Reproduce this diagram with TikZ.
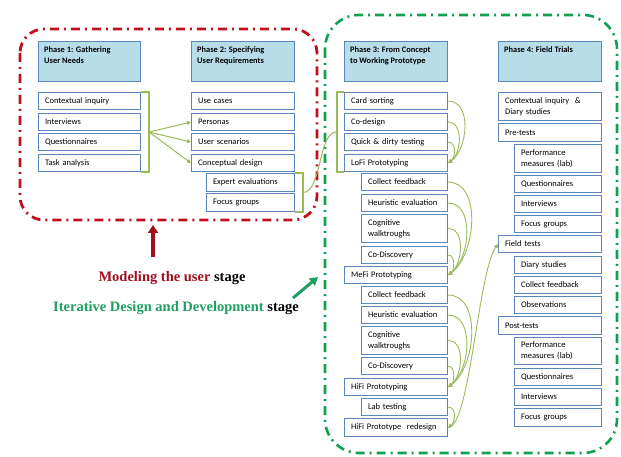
\documentclass[tikz,border=0pt]{standalone}
\usepackage{fontspec}
\setmainfont{Carlito}
\newfontfamily\lblfont{Liberation Serif}
\usetikzlibrary{calc,arrows.meta}
\definecolor{boxblue}{HTML}{5B87C0}
\definecolor{hdrfill}{HTML}{B7DDE8}
\definecolor{conn}{HTML}{9BBB59}
\definecolor{redd}{HTML}{C0101E}
\definecolor{greend}{HTML}{10A050}
\definecolor{lblred}{HTML}{A0101E}
\definecolor{lblgreen}{HTML}{20A060}
\begin{document}
\begin{tikzpicture}[x=1pt,y=-1pt,
  item/.style={draw=boxblue, line width=1.1pt, fill=white, anchor=north west, inner xsep=6.5pt, inner ysep=0pt, align=left, font=\fontsize{8.5}{11}\selectfont, minimum height=17pt},
  wide/.style={item, text width=90pt},
  narrow/.style={item, text width=74pt},
  hdr/.style={draw=boxblue, line width=1.4pt, fill=hdrfill, anchor=north west, minimum width=103pt, minimum height=40pt, inner sep=0pt},
  hdrtext/.style={anchor=north west, inner xsep=6pt, inner ysep=5pt, align=left, font=\bfseries\fontsize{8.4}{11}\selectfont},
  bracket/.style={draw=conn, line width=1.5pt},
  conn/.style={draw=conn, line width=1pt, -{Triangle[length=4pt,width=4pt]}},
  arcs/.style={draw=conn, line width=0.9pt, -{Triangle[length=4pt,width=4pt]}},
  redbox/.style={draw=redd, line width=2.8pt, rounded corners=24pt, dash pattern=on 9pt off 5pt on 2pt off 5pt},
  greenbox/.style={draw=greend, line width=2.6pt, rounded corners=34pt, dash pattern=on 9pt off 5pt on 2pt off 5pt},
  lbl/.style={font=\lblfont\bfseries\fontsize{14.5}{16}\selectfont, inner sep=0pt}
]
\useasboundingbox (0,0) rectangle (621,457);

% stage frames
\draw[redbox] (20,29) rectangle (317,220);
\draw[greenbox] (325,15) rectangle (617,453);

% Phase 1
\node[hdr, minimum width=102pt] (p1) at (38,41) {};
\node[hdrtext] (p1t) at (p1.north west) {Phase 1: Gathering\\User Needs};
\node[wide, text width=89pt] (ci1) at (38,92) {Contextual inquiry};
\node[wide, text width=89pt] (iv1) at (38,113) {Interviews};
\node[wide, text width=89pt] (q1) at (38,133) {Questionnaires};
\node[wide, text width=89pt] (ta1) at (38,154) {Task analysis};

% Phase 2
\node[hdr] (p2) at (191,41) {};
\node[hdrtext] (p2t) at (p2.north west) {Phase 2: Specifying\\User Requirements};
\node[wide] (uc) at (191,92) {Use cases};
\node[wide] (pe) at (191,113) {Personas};
\node[wide] (us) at (191,133) {User scenarios};
\node[wide] (cdz) at (191,154) {Conceptual design};
\node[item, text width=75pt, minimum height=18pt] (ee) at (206,173) {Expert evaluations};
\node[item, text width=75pt, minimum height=18pt] (fg2) at (206,193) {Focus groups};

% Phase 3
\node[hdr] (p3) at (344,41) {};
\node[hdrtext] (p3t) at (p3.north west) {Phase 3: From Concept\\to Working Prototype};
\node[wide] (cs) at (344,92) {Card sorting};
\node[wide] (cod) at (344,113) {Co-design};
\node[wide] (qd) at (344,133) {Quick \& dirty testing};
\node[wide] (lofi) at (344,154) {LoFi Prototyping};
\node[narrow, text width=73pt] (cf1) at (361,173) {Collect feedback};
\node[narrow, text width=73pt] (he1) at (361,194) {Heuristic evaluation};
\node[narrow, text width=73pt, minimum height=28pt] (cw1) at (361,214) {Cognitive\\walktroughs};
\node[narrow, text width=73pt] (cx1) at (361,246) {Co-Discovery};
\node[wide] (mefi) at (344,266) {MeFi Prototyping};
\node[narrow, text width=73pt] (cf2) at (361,286) {Collect feedback};
\node[narrow, text width=73pt] (he2) at (361,306) {Heuristic evaluation};
\node[narrow, text width=73pt, minimum height=28pt] (cw2) at (361,326) {Cognitive\\walktroughs};
\node[narrow, text width=73pt] (cx2) at (361,357) {Co-Discovery};
\node[wide] (hifi) at (344,378) {HiFi Prototyping};
\node[narrow, text width=73pt] (lab) at (361,398) {Lab testing};
\node[wide, minimum height=18pt] (hr) at (344,418) {HiFi Prototype\ \ redesign};

% Phase 4
\node[hdr] (p4) at (498,41) {};
\node[hdrtext] (p4t) at (p4.north west) {Phase 4: Field Trials};
\node[wide, minimum height=28pt] (ci4) at (498,92) {Contextual inquiry \ \&\\Diary studies};
\node[wide, minimum height=18pt] (pre) at (498,123) {Pre-tests};
\node[narrow, minimum height=28pt] (pm1) at (514,144) {Performance\\measures (lab)};
\node[narrow] (q4) at (514,175) {Questionnaires};
\node[narrow] (iv4) at (514,195) {Interviews};
\node[narrow] (fg4) at (514,215) {Focus groups};
\node[wide] (ft) at (498,235) {Field tests};
\node[narrow] (ds) at (514,256) {Diary studies};
\node[narrow] (cf4) at (514,276) {Collect feedback};
\node[narrow] (ob) at (514,296) {Observations};
\node[wide, minimum height=18pt] (post) at (498,316) {Post-tests};
\node[narrow, minimum height=27pt] (pm2) at (514,337) {Performance\\measures (lab)};
\node[narrow] (q4b) at (514,368) {Questionnaires};
\node[narrow] (iv4b) at (514,388) {Interviews};
\node[narrow, minimum height=18pt] (fg4b) at (514,408) {Focus groups};

% brackets
\draw[bracket] (ci1.north east) -- ++(8,0) |- (ta1.south east);
\coordinate (b1) at ($(ci1.north east)!0.5!(ta1.south east)+(8,0)$);
\draw[bracket] (ee.north east) -- ++(8,0) |- (fg2.south east);
\coordinate (b2) at ($(ee.north east)!0.5!(fg2.south east)+(8,0)$);
\draw[bracket] (cs.north west) -- ++(-7,0) |- (lofi.south west);
\coordinate (b3) at ($(cs.north west)!0.5!(lofi.south west)+(-7,0)$);

% phase 1 -> phase 2
\draw[conn] (b1) -- (pe.west);
\draw[conn] (b1) -- (us.west);
\draw[conn] (b1) -- (cdz.west);
% phase 2 -> phase 3
\draw[draw=conn, line width=1pt] (b2) .. controls (322,192) and (318,131) .. (b3);

% phase 3 arcs
\draw[arcs] (cs.east) .. controls +(24,0) and +(20,-14) .. (lofi.east);
\draw[arcs] (cod.east) .. controls +(16,0) and +(13,-9) .. (lofi.east);
\draw[arcs] (qd.east) .. controls +(9,0) and +(7,-5) .. (lofi.east);
\draw[arcs] (cf1.east) .. controls +(34,0) and +(28,-20) .. (mefi.east);
\draw[arcs] (he1.east) .. controls +(27,0) and +(22,-16) .. (mefi.east);
\draw[arcs] (cw1.east) .. controls +(18,0) and +(14,-10) .. (mefi.east);
\draw[arcs] (cx1.east) .. controls +(8,0) and +(6,-4) .. (mefi.east);
\draw[arcs] (cf2.east) .. controls +(34,0) and +(28,-20) .. (hifi.east);
\draw[arcs] (he2.east) .. controls +(27,0) and +(22,-16) .. (hifi.east);
\draw[arcs] (cw2.east) .. controls +(18,0) and +(14,-10) .. (hifi.east);
\draw[arcs] (cx2.east) .. controls +(8,0) and +(6,-4) .. (hifi.east);
\draw[arcs] (lab.east) .. controls +(9,0) and +(7,-5) .. (hr.east);
% phase 3 -> phase 4
\draw[arcs] (hr.east) .. controls (470,427) and (478,272) .. (ft.west);

% stage labels
\node[lbl] (ml) at (172,278) {\textcolor{lblred}{Modeling the user} stage};
\node[lbl] (il) at (176,308) {\textcolor{lblgreen}{Iterative Design and Development} stage};
\coordinate (ra1) at (153,257);
\coordinate (ra2) at (153,225);
\draw[draw=lblred, line width=3.4pt, -{Triangle[length=8pt,width=10pt]}] (ra1) -- (ra2);
\coordinate (ga1) at (293,298);
\coordinate (ga2) at (318,277);
\draw[draw=lblgreen, line width=3pt, -{Triangle[length=8pt,width=9pt]}] (ga1) -- (ga2);
\end{tikzpicture}
\end{document}
